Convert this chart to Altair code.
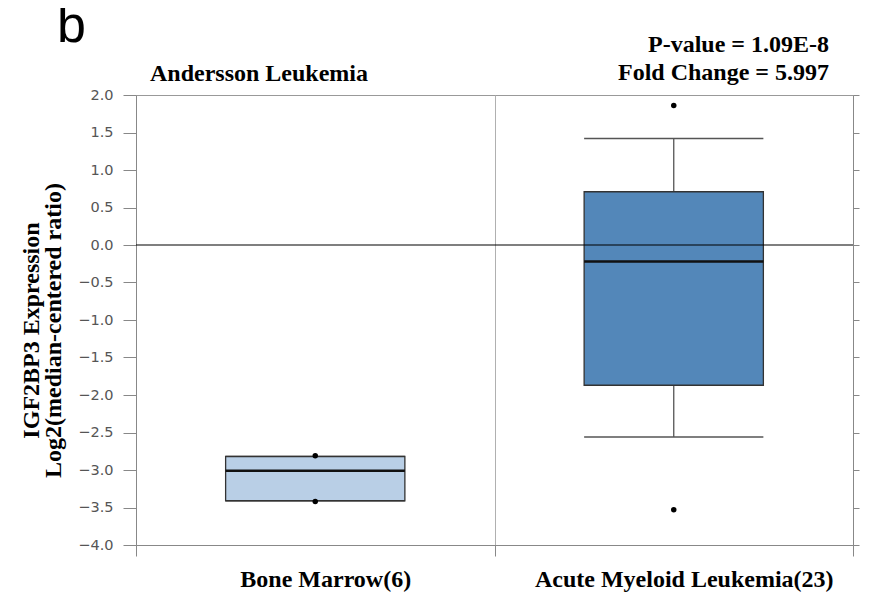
import altair as alt
import pandas as pd

# ---- data ----
categories = ["Bone Marrow(6)", "Acute Myeloid Leukemia(23)"]
q1 = [-3.41, -1.87]
median = [-3.01, -0.22]
q3 = [-2.82, 0.71]
whisker_lo = [-3.41, -2.56]
whisker_hi = [-2.82, 1.42]
point_cat = ["Bone Marrow(6)", "Bone Marrow(6)",
             "Acute Myeloid Leukemia(23)", "Acute Myeloid Leukemia(23)"]
point_val = [-2.81, -3.42, 1.86, -3.53]
box_colors = ["#b9cfe6", "#5387b9"]
y_ticks = [-4.0, -3.5, -3.0, -2.5, -2.0, -1.5, -1.0, -0.5, 0.0, 0.5, 1.0, 1.5, 2.0]

panel_letter = "b"
dataset_title = "Andersson Leukemia"
pvalue_text = "P-value = 1.09E-8"
fold_text = "Fold Change = 5.997"
y_title = ["IGF2BP3 Expression", "Log2(median-centered ratio)"]

boxes = pd.DataFrame({"cat": categories, "q1": q1, "med": median, "q3": q3,
                      "lo": whisker_lo, "hi": whisker_hi})
points = pd.DataFrame({"cat": point_cat, "v": point_val})
zero = pd.DataFrame({"v": [0.0]})

W, H = 717, 450
SERIF = "Liberation Serif"
TXT = 24

yscale = alt.Scale(domain=[-4, 2], nice=False, zero=False)
xscale = alt.Scale(domain=categories, paddingInner=0, paddingOuter=0)

x_enc = alt.X("cat:N", sort=categories, scale=xscale,
              axis=alt.Axis(title=None, tickBand="extent", grid=True, gridColor="#b0b0b0",
                            tickSize=11, tickColor="#888", domainColor="#888",
                            labelAngle=0, labelFont=SERIF, labelFontWeight="bold",
                            labelFontSize=TXT, labelColor="black", labelPadding=11,
                            labelOffset=10, labelLimit=500))

left_axis = alt.Axis(title=y_title, values=y_ticks, format=".1f", grid=False,
                     labelOverlap=False, labelFlush=False,
                     tickSize=13, tickColor="#888", domainColor="#888",
                     labelFont="DejaVu Sans", labelFontSize=14.5, labelColor="#555",
                     labelPadding=10, titleFont=SERIF, titleFontWeight="bold",
                     titleFontSize=TXT, titleColor="black", titlePadding=12,
                     titleLineHeight=22, titleY=235)
right_axis = alt.Axis(title=None, values=y_ticks, orient="right", labels=False,
                      grid=False, tickSize=6, tickColor="#888", domainColor="#888")


def Y(field):
    return alt.Y(field, scale=yscale, axis=left_axis)


base = alt.Chart(boxes)

whisk_up = base.mark_rule(color="#555", strokeWidth=1.3).encode(
    x=x_enc, y=Y("q3:Q"), y2="hi:Q")
whisk_dn = base.mark_rule(color="#555", strokeWidth=1.3).encode(
    x=x_enc, y=Y("q1:Q"), y2="lo:Q")
cap_hi = base.mark_bar(fillOpacity=0, stroke="#555", strokeWidth=1.3,
                       width=alt.RelativeBandSize(0.5)).encode(
    x=x_enc, y=Y("hi:Q"), y2="hi:Q")
cap_lo = base.mark_bar(fillOpacity=0, stroke="#555", strokeWidth=1.3,
                       width=alt.RelativeBandSize(0.5)).encode(
    x=x_enc, y=Y("lo:Q"), y2="lo:Q")
box = base.mark_bar(stroke="#333", strokeWidth=1.3, opacity=1,
                    width=alt.RelativeBandSize(0.5)).encode(
    x=x_enc, y=Y("q1:Q"), y2="q3:Q",
    color=alt.Color("cat:N", scale=alt.Scale(domain=categories, range=box_colors),
                    legend=None))
med = base.mark_bar(fillOpacity=0, stroke="#111", strokeWidth=2.5,
                    width=alt.RelativeBandSize(0.5)).encode(
    x=x_enc, y=Y("med:Q"), y2="med:Q")
pts = alt.Chart(points).mark_circle(color="black", size=30, opacity=1).encode(
    x=x_enc, y=Y("v:Q"))
zero_line = alt.Chart(zero).mark_rule(color="black", strokeWidth=1.2).encode(
    y=alt.Y("v:Q", scale=yscale, axis=right_axis))


def label(txt, x, y, size, align="left", font=SERIF, weight="bold"):
    return alt.Chart(pd.DataFrame({"t": [txt]})).mark_text(
        align=align, baseline="alphabetic", font=font, fontWeight=weight,
        fontSize=size, color="black").encode(
        text="t:N", x=alt.value(x), y=alt.value(y))


texts = (label(panel_letter, -79, -53, 52, font="Liberation Sans", weight="normal")
         + label(dataset_title, 14, -14, TXT)
         + label(pvalue_text, 693, -43, TXT, align="right")
         + label(fold_text, 693, -15, TXT, align="right"))

chart = alt.layer(
    alt.layer(whisk_up, whisk_dn, cap_hi, cap_lo, box, med, pts),
    zero_line,
    texts,
).resolve_axis(y="independent").properties(
    width=W, height=H,
    autosize=alt.AutoSizeParams(type="none"),
    padding={"left": 128, "top": 87, "right": 10, "bottom": 53},
).configure_view(stroke="#999", strokeWidth=1)

chart.save("out.html", embed_options={"renderer": "svg", "actions": False})
